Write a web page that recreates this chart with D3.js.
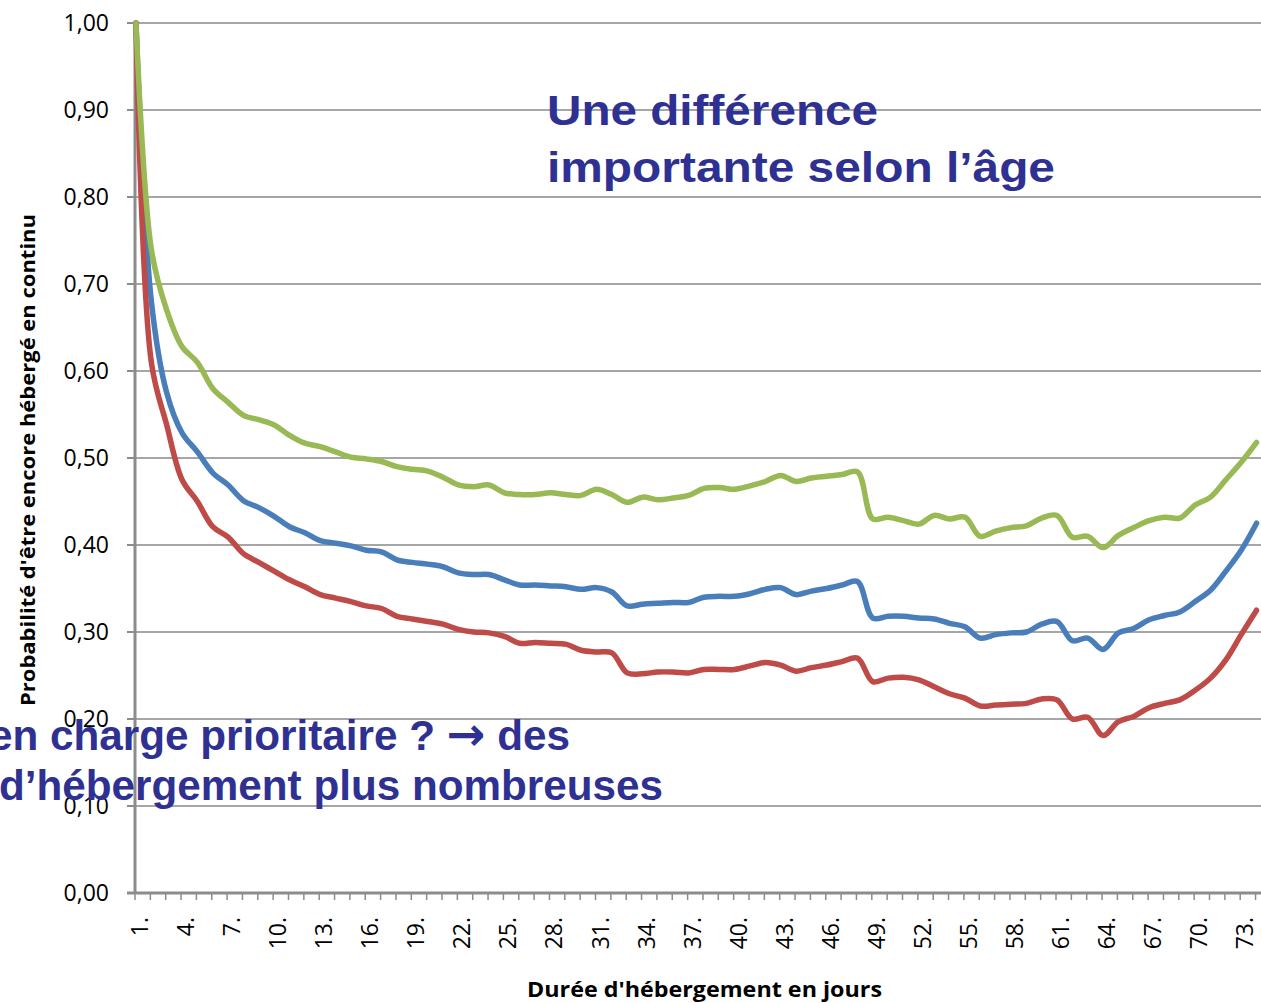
<!DOCTYPE html>
<html>
<head>
<meta charset="utf-8">
<script src="https://cdn.jsdelivr.net/npm/d3@7"></script>
<style>
  body { margin: 0; background: #fff; overflow: hidden; }
  svg { display: block; }
</style>
</head>
<body>
<div id="chart"></div>
<script>
// categories: days of stay (1. .. 74.)
var days = [1,2,3,4,5,6,7,8,9,10,11,12,13,14,15,16,17,18,19,20,21,22,23,24,25,
  26,27,28,29,30,31,32,33,34,35,36,37,38,39,40,41,42,43,44,45,46,47,48,49,50,
  51,52,53,54,55,56,57,58,59,60,61,62,63,64,65,66,67,68,69,70,71,72,73,74];

// labels shown every third day
var tickDays = [1,4,7,10,13,16,19,22,25,28,31,34,37,40,43,46,49,52,55,58,61,64,67,70,73];
var yTicks = [0, 0.1, 0.2, 0.3, 0.4, 0.5, 0.6, 0.7, 0.8, 0.9, 1.0];

// probability of still being housed
var blueVals = [1.00,0.68,0.575,0.529,0.507,0.483,0.469,0.451,0.443,0.433,
  0.421,0.414,0.405,0.402,0.399,0.394,0.392,0.383,0.380,0.378,
  0.375,0.368,0.366,0.366,0.360,0.354,0.354,0.353,0.352,0.349,
  0.351,0.346,0.330,0.332,0.333,0.334,0.334,0.340,0.341,0.341,
  0.344,0.349,0.351,0.343,0.347,0.350,0.354,0.358,0.316,0.318,
  0.318,0.316,0.315,0.310,0.306,0.293,0.297,0.299,0.300,0.309,
  0.312,0.290,0.293,0.280,0.299,0.304,0.314,0.319,0.323,0.335,
  0.348,0.370,0.394,0.425];

var redVals = [1.00,0.61,0.538,0.475,0.450,0.421,0.409,0.390,0.380,0.370,
  0.360,0.352,0.343,0.339,0.335,0.330,0.327,0.318,0.315,0.312,
  0.309,0.303,0.300,0.299,0.295,0.287,0.288,0.287,0.286,0.279,
  0.277,0.276,0.253,0.252,0.254,0.254,0.253,0.257,0.257,0.257,
  0.261,0.265,0.262,0.255,0.259,0.262,0.266,0.270,0.243,0.247,
  0.248,0.245,0.237,0.229,0.224,0.215,0.216,0.217,0.218,0.223,
  0.222,0.200,0.202,0.181,0.197,0.203,0.213,0.218,0.222,0.233,
  0.247,0.268,0.297,0.325];

var greenVals = [1.00,0.74,0.670,0.628,0.610,0.580,0.564,0.549,0.544,0.538,
  0.526,0.517,0.513,0.507,0.501,0.499,0.496,0.490,0.487,0.485,
  0.478,0.469,0.467,0.469,0.460,0.458,0.458,0.460,0.458,0.457,
  0.464,0.458,0.449,0.455,0.452,0.454,0.457,0.465,0.466,0.464,
  0.468,0.473,0.480,0.473,0.477,0.479,0.481,0.484,0.430,0.432,
  0.428,0.424,0.434,0.430,0.432,0.410,0.416,0.420,0.422,0.431,
  0.434,0.409,0.410,0.397,0.411,0.420,0.428,0.432,0.431,0.446,
  0.455,0.475,0.495,0.518];

(function() {
  var W = 1261, H = 1003;
  var plotLeft = 135, plotTop = 23, plotBottom = 893;
  var step = 15.35;

  var svg = d3.select("#chart").append("svg")
    .attr("width", W).attr("height", H);

  var x = d3.scaleLinear().domain([1, 74]).range([plotLeft + 1, plotLeft + 1 + 73 * step]);
  var y = d3.scaleLinear().domain([0, 1]).range([plotBottom, plotTop]);

  var fmt = function(v) { return d3.format(".2f")(v).replace(".", ","); };

  // horizontal gridlines
  svg.append("g").selectAll("line")
    .data(yTicks.filter(function(d) { return d > 0; }))
    .enter().append("line")
    .attr("x1", plotLeft).attr("x2", W)
    .attr("y1", function(d) { return y(d); })
    .attr("y2", function(d) { return y(d); })
    .attr("stroke", "#a6a6a6").attr("stroke-width", 2);

  // y axis
  var yAxis = svg.append("g");
  yAxis.append("line")
    .attr("x1", plotLeft).attr("x2", plotLeft)
    .attr("y1", plotTop).attr("y2", plotBottom)
    .attr("stroke", "#8c8c8c").attr("stroke-width", 3);
  yAxis.selectAll(".tk").data(yTicks).enter().append("line")
    .attr("x1", plotLeft - 8).attr("x2", plotLeft)
    .attr("y1", function(d) { return y(d); })
    .attr("y2", function(d) { return y(d); })
    .attr("stroke", "#8c8c8c").attr("stroke-width", 2);
  yAxis.selectAll("text").data(yTicks).enter().append("text")
    .attr("x", 109)
    .attr("y", function(d) { return y(d) + 8; })
    .attr("text-anchor", "end")
    .attr("font-family", "Open Sans, sans-serif")
    .attr("font-size", 23)
    .attr("fill", "#000")
    .text(fmt);

  // x axis
  var xAxis = svg.append("g");
  xAxis.append("line")
    .attr("x1", plotLeft - 8).attr("x2", W)
    .attr("y1", plotBottom).attr("y2", plotBottom)
    .attr("stroke", "#8c8c8c").attr("stroke-width", 3);
  xAxis.selectAll(".tk").data(days.concat([75])).enter().append("line")
    .attr("x1", function(d) { return x(d) - 1; })
    .attr("x2", function(d) { return x(d) - 1; })
    .attr("y1", plotBottom).attr("y2", plotBottom + 7)
    .attr("stroke", "#8c8c8c").attr("stroke-width", 1.5);
  xAxis.selectAll("text").data(tickDays).enter().append("text")
    .attr("transform", function(d) { return "translate(" + (x(d) + 12) + ",917) rotate(-90)"; })
    .attr("text-anchor", "end")
    .attr("font-family", "Open Sans, sans-serif")
    .attr("font-size", 23)
    .attr("fill", "#000")
    .text(function(d) { return d + "."; });

  // axis titles
  svg.append("text")
    .attr("x", 527).attr("y", 997)
    .attr("textLength", 355).attr("lengthAdjust", "spacingAndGlyphs")
    .attr("font-family", "Open Sans, sans-serif")
    .attr("font-weight", "bold").attr("font-size", 21)
    .text("Durée d'hébergement en jours");

  svg.append("text")
    .attr("transform", "translate(35,706) rotate(-90)")
    .attr("textLength", 492).attr("lengthAdjust", "spacingAndGlyphs")
    .attr("font-family", "Open Sans, sans-serif")
    .attr("font-weight", "bold").attr("font-size", 19)
    .text("Probabilité d'être encore hébergé en continu");

  // series
  var series = [
    { name: "blue", values: blueVals, color: "#4a7ebb" },
    { name: "red", values: redVals, color: "#be4b48" },
    { name: "green", values: greenVals, color: "#98b954" }
  ];

  var line = d3.line()
    .x(function(d, i) { return x(days[i]); })
    .y(function(d) { return y(d); })
    .curve(d3.curveCatmullRom.alpha(0.5));

  svg.append("g").selectAll("path")
    .data(series).enter().append("path")
    .attr("d", function(s) { return line(s.values); })
    .attr("fill", "none")
    .attr("stroke", function(s) { return s.color; })
    .attr("stroke-width", 5.5)
    .attr("stroke-linejoin", "round")
    .attr("stroke-linecap", "round");

  // slide overlay texts
  var navy = "#2e3192";
  var notes = [
    { parts: ["Une différence"], x: 547, y: 125, len: 331 },
    { parts: ["importante selon l’âge"], x: 547, y: 182, len: 508 },
    { parts: ["en charge prioritaire ? ", "\u2192", " des"], x: -11, y: 750, len: 581 },
    { parts: ["d’hébergement plus nombreuses"], x: -1, y: 800, len: 664 }
  ];
  var notesG = svg.append("g")
    .attr("font-family", "Liberation Sans, Arial, sans-serif")
    .attr("font-weight", "bold")
    .attr("font-size", 42)
    .attr("fill", navy);
  notes.forEach(function(n) {
    var t = notesG.append("text")
      .attr("x", n.x).attr("y", n.y)
      .attr("textLength", n.len)
      .attr("lengthAdjust", "spacingAndGlyphs");
    n.parts.forEach(function(p) {
      var ts = t.append("tspan").text(p);
      if (p === "\u2192") ts.attr("font-family", "DejaVu Sans, sans-serif").attr("font-size", 46);
    });
  });
})();
</script>
</body>
</html>
